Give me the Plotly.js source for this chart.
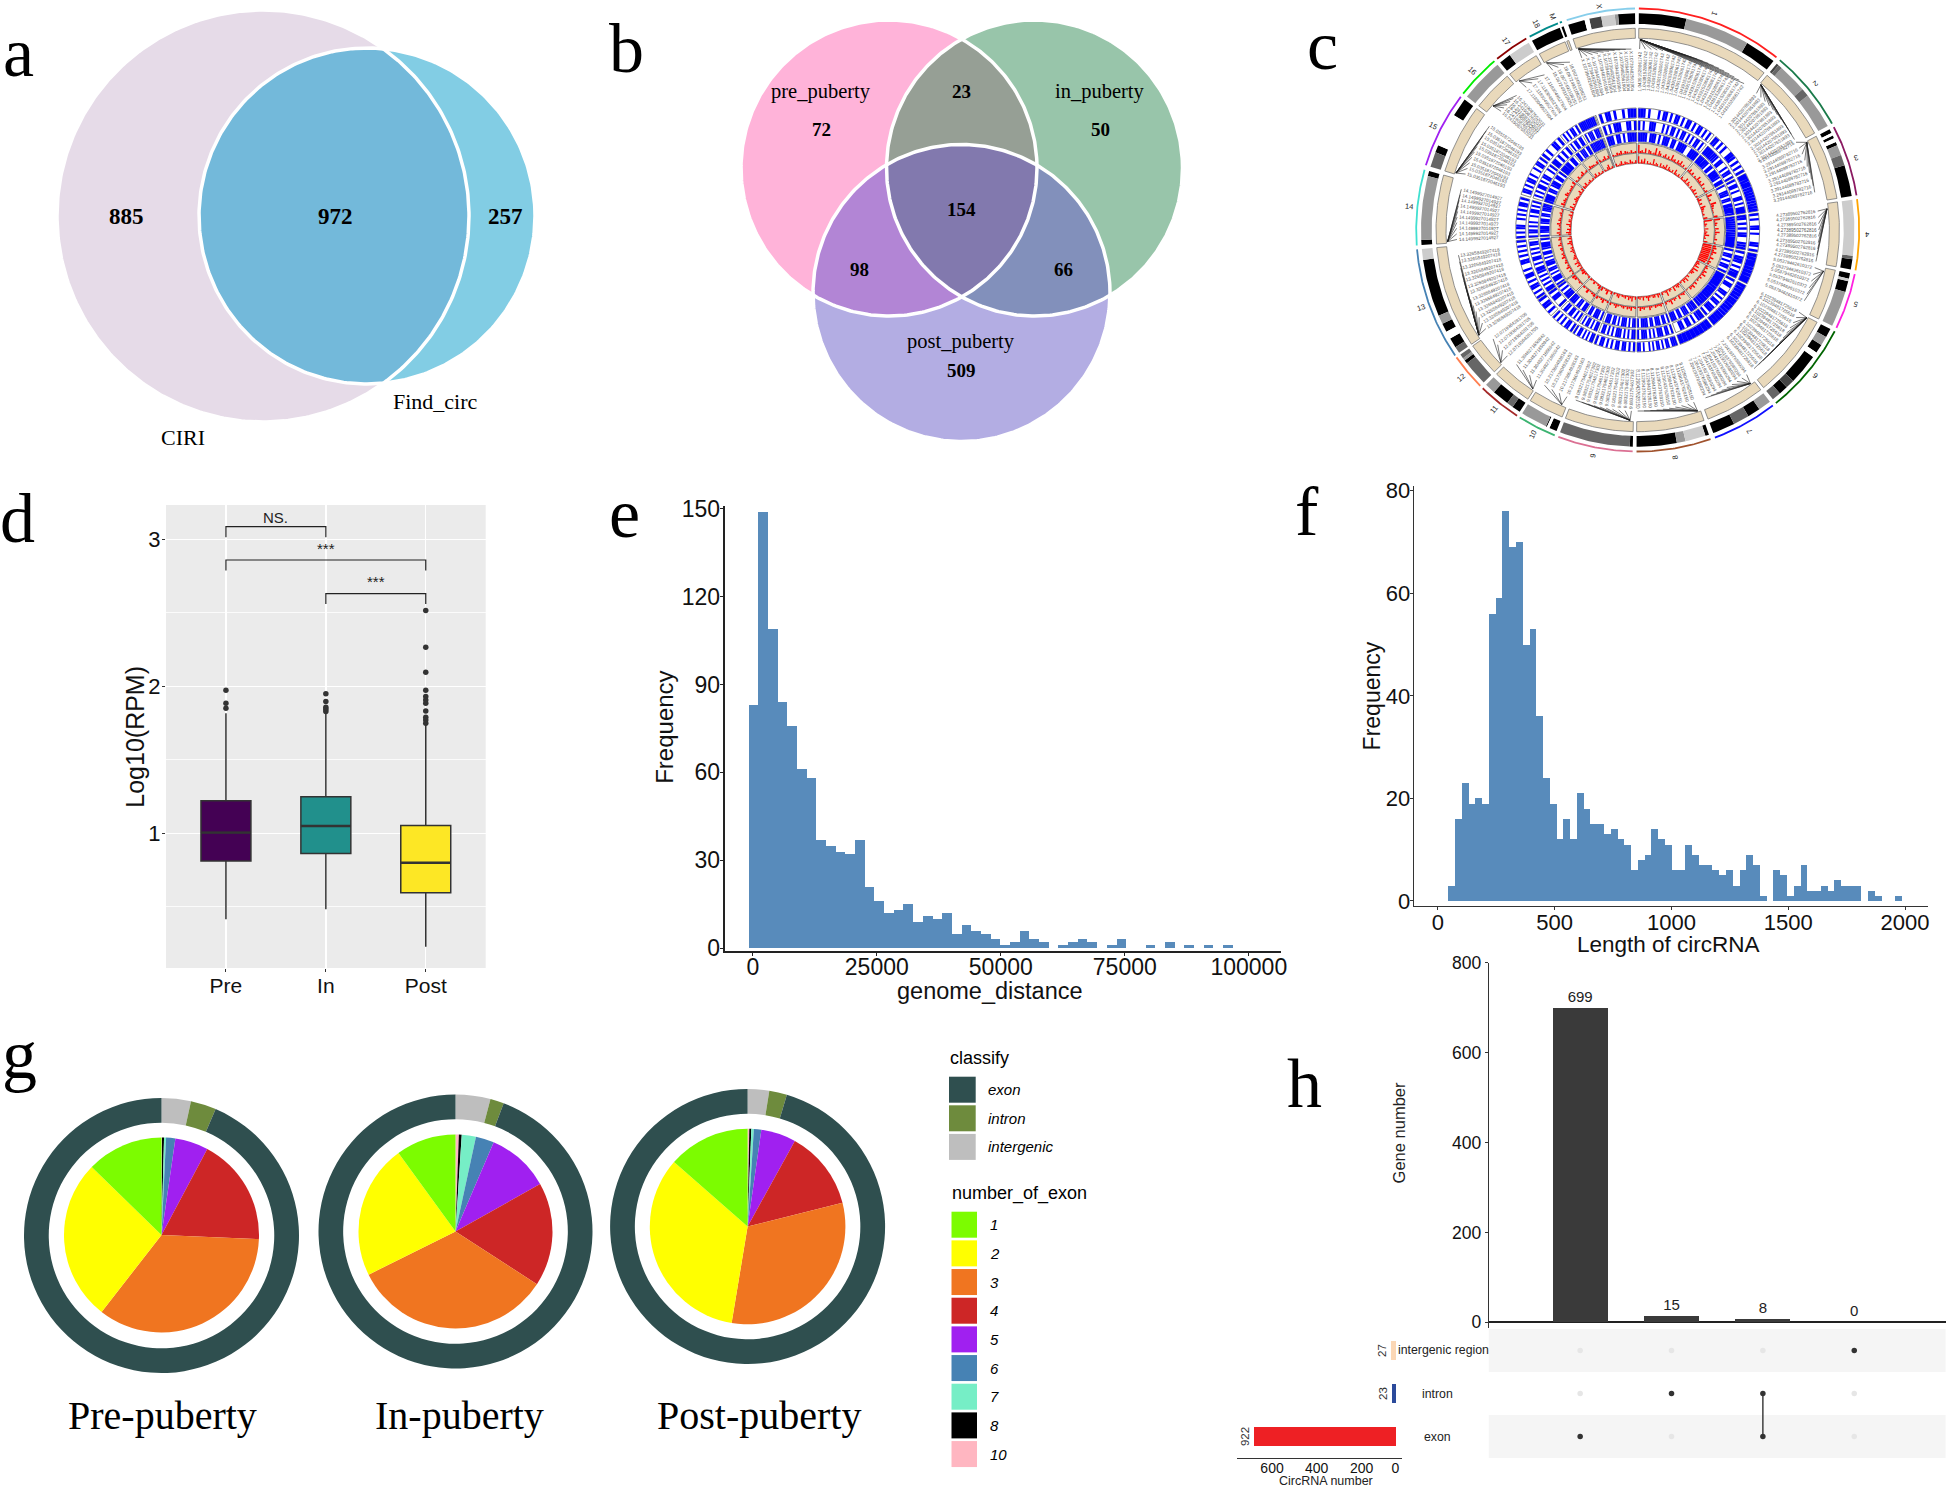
<!DOCTYPE html>
<html>
<head>
<meta charset="utf-8">
<script src="https://cdn.plot.ly/plotly-3.0.1.min.js"></script>
<style>html,body{margin:0;padding:0;background:#fff}#chart{width:1946px;height:1489px}</style>
</head>
<body>
<div id="chart"></div>
<script>
// ---------- data ----------
const vennA = [885, 972, 257];
const vennANames = ['CIRI', 'Find_circ'];
const vennB = {pre: 72, in_: 50, post: 509, preIn: 23, prePost: 98, inPost: 66, all: 154};

const groups = ['Pre', 'In', 'Post'];
const boxQ1 = [0.812, 0.862, 0.596];
const boxMedian = [1.005, 1.05, 0.80];
const boxQ3 = [1.222, 1.249, 1.054];
const boxLow = [0.415, 0.483, 0.229];
const boxHigh = [1.816, 1.812, 1.737];
const boxColors = ['#440154', '#21908c', '#fde725'];
const outPre = [1.973, 1.884, 1.85];
const outIn = [1.95, 1.896, 1.857, 1.844, 1.828];
const outPost = [2.515, 2.265, 2.095, 1.973, 1.93, 1.907, 1.884, 1.832, 1.789, 1.771, 1.748];

const genomeCounts = [83,149,109,84,76,61,58,37,35,33,32,37,21,16,12,13,15,9,11,10,12,5,8,6,5,3,1,2,6,3,2,0,1,2,3,2,0,1,3,0,0,1,0,2,0,1,0,1,0,1];
const lengthCounts = [3,16,23,19,20,19,56,59,76,69,70,50,53,36,24,19,12,16,12,21,18,15,15,13,14,12,11,6,8,9,14,12,11,6,6,11,9,7,7,6,5,6,3,6,9,7,1,0,6,5,1,3,7,2,2,3,2,4,3,3,3,0,2,1,0,0,1];

const classifyNames = ['exon', 'intron', 'intergenic'];
const classifyColors = ['#2f4f4f', '#6e8b3d', '#bebebe'];
const exonNames = ['1','2','3','4','5','6','7','8','10'];
const exonColors = ['#7cfc00','#ffff00','#f07520','#cd2626','#a020f0','#4682b4','#76eec6','#000000','#ffb6c1'];
// shares, clockwise from twelve o'clock: exon number 10, 8, 7, 6, 5, 4, 3, 2, 1
const piePre  = [0.3, 1.2, 1.2, 5.5, 19.8, 64.4, 125.5, 96.4, 45.7];
const pieIn   = [2, 1.7, 8.5, 11, 37.5, 62.2, 120.7, 80.4, 36];
const piePost = [1, 1.2, 1.5, 4.4, 20.8, 47.1, 113.4, 121.8, 48.8];
// intergenic, intron, exon
const ringPre  = [12.4, 10.8, 336.8];
const ringIn   = [14.8, 5.8, 339.4];
const ringPost = [9.1, 7.5, 343.4];
const pieTitles = ['Pre-puberty', 'In-puberty', 'Post-puberty'];

const upsetCounts = [699, 15, 8, 0];
const setNames = ['exon', 'intron', 'intergenic region'];
const setCounts = [922, 23, 27];
const setColors = ['#ee2024', '#2b4a9b', '#fbd7b5'];
const upsetExon = [1, 0, 1, 0];
const upsetIntron = [0, 1, 1, 0];
const upsetInter = [0, 0, 0, 1];

const chrNames = ['1','2','3','4','5','6','7','8','9','10','11','12','13','14','15','16','17','18','M','X'];
const chrStart = [0.3,39.9,62.3,82,101.5,117.2,142.4,160.8,181.3,202,213,225.3,235.5,266,287,308,320.6,330.8,339.4,341.3];
const chrEnd = [38.8,61.3,81,100.5,116.2,141.4,159.6,180.3,201,212.2,224.4,234.9,265,285.8,307,319.7,329.8,338.9,340,359.3];
const chrColors = ['#ff2020','#1a7a4a','#8b1a62','#ffa500','#ff20e0','#006400','#1010ff','#a0522d','#db7093','#3cb371','#a52a2a','#ff7f50','#4682b4','#40e0d0','#a020f0','#00ee00','#8b0000','#008b8b','#008b8b','#87ceeb'];
const K='#000000',D='#444444',M='#666666',G='#999999',L='#cccccc',W='#ffffff';
const chrBands = [
 [[.33,K],[.78,G],[1,K]],
 [[.03,D],[.08,M],[.45,G],[.55,M],[1,G]],
 [[.06,K],[.1,W],[.14,K],[.2,W],[.25,K],[.4,G],[.55,M],[1,K]],
 [[.8,L],[.85,M],[1,K]],
 [[.1,K],[.15,L],[.35,K],[.6,G],[1,G]],
 [[.1,K],[.2,G],[.3,K],[.36,W],[.7,K],[.8,D],[.9,K],[1,M]],
 [[.2,G],[.4,K],[.65,M],[1,K]],
 [[.05,K],[.33,L],[.45,G],[1,K]],
 [[.04,K],[1,M]],
 [[.2,K],[.27,W],[.3,K],[1,G]],
 [[.2,K],[.35,M],[.75,K],[1,G]],
 [[.7,M],[.8,K],[.88,G],[1,M]],
 [[.06,M],[.15,K],[.22,W],[.3,K],[.38,G],[.9,K],[1,L]],
 [[.07,K],[.93,G],[1,K]],
 [[.2,M],[.3,K],[.75,W],[1,K]],
 [[1,G]],
 [[.35,K],[1,L]],
 [[1,K]],
 [[1,K]],
 [[.25,K],[.32,W],[.5,D],[.7,L],[.75,G],[1,K]]
];
const labelStart = [0.6,41,61,84,102,117,143,162,182,203,214,226,237,267,288,311,322,332,0,342];
const labelEnd = [36,60,78,100,113,140,158,180,200,211,222,233,262,283,305,318,329,338,0,358];
const labelCount = [20,11,9,9,6,13,9,10,10,4,4,4,13,10,10,6,4,4,0,10];
const linkAnchor = [0.7,40.3,62.6,83.6,102.5,117.4,143.7,161.7,182.3,203.5,213.4,225.9,236.5,266.5,287.4,310.6,321.5,331.4,0,341.9];
const labelText = ['1.04391528061742','2.30144207651893','3.29144089782716','4.27389502762816','5.05379462610372','6.10239481725618','7.20419376580294','8.11290437628150','9.08321754617302','10.2173604928163','11.3048271650942','12.0719364281705','13.3265849207418','14.1499927014927','15.0351872046193','16.2419087652031','17.1183049527604','18.0672493108251','','X.10739482561904'];
const ringA = ["###.#...#.##.#.##.#.##.#.##.#.#.","##.#.#..###.#.#.#","##############","#.#..##.#...##.#","#########","###############","########","###.##.#.##.#.#..#.##","#.#.##.##.#.#.##.#","##.#.#.##.#","#.##.#.#.#",".#.##.#","#.#.##.#.##.#..##.#.#.#.#","#.#.##..#.#.#.##.#",".##.#.##.#..#.##.#","#.#..##.#",".#.#.##.#","#########","","#.##.#..#.###"];
const ringB = ["#.#..###...#.#.##.#.##.#.#.##.#.","#######.##..#.##.#","#.##.#..##.#.###","##.#.#.##..###","#.###.#.###","#.##..##.#.##.###.#","###.#.##.##..","#.##.###.#.#.###.#","##.#.#.###.#.#.##.","##.#.##.#.","#.#.##.##.","#..##.#","##.#.#.#.###.#.##.#.#.##.","#.##.#.#..#.##.#.#",".#.#.##.#.##..#.#","##.#.#.#",".#.##.##.","#.###.###","","#.#.###..##.#"];
const ringC = ["####.###.#.###.##.####..####","######.##.#####.##","#..###.##.######","##############","#.##.#.##.#","##############","####.###.##.###","#.##.###.##.####.#","##.#.###.#.##.###.","#.###.##.","##.##.###","###.#.#","#.###.#.##.###.#.##.####.#","#.####.###.##.####","####.##.###.##.#","#####.##.","##.###.##","#########","","###.##.#.####"];
const redOuter = ["8231504312715302413162314251302","2413021523140213","151206321104","61320415211302","3425214132","231425131203142301","1321402315213","13223124113241","21423132124213","214213","321412","12134","2131421321423123142132","241312413212312","14232143122314","21312412","132213","312413","","213241321312"];
const redInner = ["7142503121613204132514213052131","3125142031241302","241305321204","81320413251204","9999999998","342516243103152412","2431502316213","24133125214132","31524132214312","315214","421312","21243","3142521432124231253142","352412513312413","25131243212413","32412312","241312","213512","","312413214213"];

// ---------- helpers ----------
const FS = 'Liberation Serif, Times New Roman, serif';
const FA = 'Liberation Sans, Arial, sans-serif';
const PW = 1946, PH = 1489;
const dx = (a, b) => [a / PW, b / PW];
const dy = (top, bottom) => [1 - bottom / PH, 1 - top / PH];
const traces = [], anns = [], shapes = [];
function T(x, y, text, size, o) {
  o = o || {};
  anns.push({xref: 'x', yref: 'y', x, y, text, showarrow: false, xanchor: o.anchor || 'center', yanchor: 'middle',
    textangle: o.angle || 0, font: {family: o.family || FS, size, color: o.color || '#000'}});
}
function circle(cx, cy, r) {
  const p = [];
  for (let i = 0; i < 360; i++) { const t = i * Math.PI / 180; p.push([cx + r * Math.cos(t), cy + r * Math.sin(t)]); }
  return p;
}
function clip(subject, clipper) {
  let out = subject;
  for (let i = 0; i < clipper.length; i++) {
    const a = clipper[i], b = clipper[(i + 1) % clipper.length], inp = out;
    out = [];
    const side = p => (b[0] - a[0]) * (p[1] - a[1]) - (b[1] - a[1]) * (p[0] - a[0]);
    for (let j = 0; j < inp.length; j++) {
      const c = inp[j], d = inp[(j + 1) % inp.length], sc = side(c), sd = side(d);
      if (sc >= 0) out.push(c);
      if ((sc >= 0) !== (sd >= 0)) { const t = sc / (sc - sd); out.push([c[0] + t * (d[0] - c[0]), c[1] + t * (d[1] - c[1])]); }
    }
  }
  return out;
}
function poly(points, color) {
  const x = points.map(p => p[0]), y = points.map(p => p[1]);
  x.push(x[0]); y.push(y[0]);
  traces.push({type: 'scatter', mode: 'lines', x, y, xaxis: 'x', yaxis: 'y', fill: 'toself', fillcolor: color, line: {width: 0}, hoverinfo: 'skip', showlegend: false});
}
function outline(points, color, width) {
  const x = points.map(p => p[0]), y = points.map(p => p[1]);
  x.push(x[0]); y.push(y[0]);
  traces.push({type: 'scatter', mode: 'lines', x, y, xaxis: 'x', yaxis: 'y', line: {width, color}, hoverinfo: 'skip', showlegend: false});
}

// ---------- panel a ----------
const cA1 = circle(263, 216, 206), cA2 = circle(367, 216, 168);
poly(cA1, '#e6dbe8'); poly(cA2, '#82cde4'); poly(clip(cA1, cA2), '#73b9da');
outline(cA1, '#ffffff', 3.5); outline(cA2, '#ffffff', 3.5);
T(126, 216, '<b>' + vennA[0] + '</b>', 23); T(335, 216, '<b>' + vennA[1] + '</b>', 23); T(505, 216, '<b>' + vennA[2] + '</b>', 23);
T(183, 437, vennANames[0], 22); T(435, 401, vennANames[1], 22);

// ---------- panel b ----------
const cP = circle(889, 168, 148), cG = circle(1034.5, 168, 148), cU = circle(961.5, 293, 148.5);
poly(cP, '#ffb3d9'); poly(cG, '#98c5aa'); poly(cU, '#b3ade3');
poly(clip(cP, cG), '#969f95'); poly(clip(cP, cU), '#b285d5'); poly(clip(cG, cU), '#8290bb');
poly(clip(clip(cP, cG), cU), '#8279ae');
[cP, cG, cU].forEach(c => outline(c, '#ffffff', 3.5));
T(821, 91, 'pre_puberty', 20.5); T(821, 129, '<b>' + vennB.pre + '</b>', 19);
T(961, 91, '<b>' + vennB.preIn + '</b>', 19);
T(1100, 91, 'in_puberty', 20.5); T(1100, 129, '<b>' + vennB.in_ + '</b>', 19);
T(961, 209, '<b>' + vennB.all + '</b>', 19);
T(859, 269, '<b>' + vennB.prePost + '</b>', 19); T(1063, 269, '<b>' + vennB.inPost + '</b>', 19);
T(961, 341, 'post_puberty', 20.5); T(961, 370, '<b>' + vennB.post + '</b>', 19);

// ---------- panel c: circular genome plot ----------
const CX = 1637.7, CY = 230;
const pol = (r, deg) => { const t = deg * Math.PI / 180; return [CX + r * Math.sin(t), CY - r * Math.cos(t)]; };
function sector(r0, r1, a0, a1) {
  const p = [], n = Math.max(1, Math.ceil((a1 - a0) / 0.75));
  for (let i = 0; i <= n; i++) p.push(pol(r1, a0 + (a1 - a0) * i / n));
  for (let i = n; i >= 0; i--) p.push(pol(r0, a0 + (a1 - a0) * i / n));
  return p;
}
function batch(list, fill, lineColor, lineWidth) {
  const x = [], y = [];
  list.forEach(p => { p.forEach(q => { x.push(q[0]); y.push(q[1]); }); x.push(p[0][0], null); y.push(p[0][1], null); });
  traces.push({type: 'scatter', mode: 'lines', x, y, xaxis: 'x', yaxis: 'y', fill: fill ? 'toself' : 'none', fillcolor: fill || undefined,
    line: {width: lineWidth || 0, color: lineColor || fill}, hoverinfo: 'skip', showlegend: false, connectgaps: false});
}
// outer coloured arcs and chromosome names
chrNames.forEach((name, i) => {
  const pts = [], n = Math.ceil((chrEnd[i] - chrStart[i]) * 2);
  for (let k = 0; k <= n; k++) pts.push(pol(221.5, chrStart[i] + (chrEnd[i] - chrStart[i]) * k / n));
  traces.push({type: 'scatter', mode: 'lines', x: pts.map(p => p[0]), y: pts.map(p => p[1]), xaxis: 'x', yaxis: 'y', line: {width: 1.8, color: chrColors[i]}, hoverinfo: 'skip', showlegend: false});
  const mid = name === 'M' ? 338.4 : name === '18' ? 333.8 : (chrStart[i] + chrEnd[i]) / 2;
  const p = pol(name === 'X' ? 227 : 230, mid);
  let rot = mid + 90; if (rot > 180) rot -= 360;
  T(p[0], p[1], name, 7.5, {family: FA, angle: rot, color: '#222'});
});
// ideogram bands, grouped by shade
const bandGroups = {};
chrBands.forEach((bands, i) => {
  let prev = 0;
  bands.forEach(b => {
    const a0 = chrStart[i] + (chrEnd[i] - chrStart[i]) * prev, a1 = chrStart[i] + (chrEnd[i] - chrStart[i]) * b[0];
    (bandGroups[b[1]] = bandGroups[b[1]] || []).push(sector(206, 216.7, a0, a1));
    prev = b[0];
  });
});
Object.keys(bandGroups).forEach(c => batch(bandGroups[c], c));
// tan track, blue tracks, red tracks
const allSectors = (r0, r1) => chrNames.map((_, i) => sector(r0, r1, chrStart[i], chrEnd[i]));
batch(allSectors(191.7, 201.7), '#e9d9bb', '#777777', 0.8);
const blueTracks = [[112, 122, ringA], [99.5, 109.5, ringB], [88, 98, ringC]];
blueTracks.forEach(tr => {
  batch(allSectors(tr[0], tr[1]), '#ffffff', '#777777', 0.9);
  const list = [];
  tr[2].forEach((s, i) => {
    const w = (chrEnd[i] - chrStart[i]) / Math.max(1, s.length);
    for (let k = 0; k < s.length; k++) if (s[k] === '#') list.push(sector(tr[0] + 0.4, tr[1] - 0.4, chrStart[i] + k * w, chrStart[i] + (k + 1) * w - 0.05));
  });
  batch(list, '#0000ff');
});
const redTracks = [[77, 87, redOuter], [66.7, 76.7, redInner]];
redTracks.forEach(tr => {
  batch(allSectors(tr[0], tr[1]), '#e9d9bb', '#777777', 0.9);
  const list = [];
  tr[2].forEach((s, i) => {
    const w = (chrEnd[i] - chrStart[i]) / Math.max(1, s.length);
    for (let k = 0; k < s.length; k++) {
      const h = +s[k];
      if (h > 0) list.push(sector(tr[0], tr[0] + (tr[1] - tr[0]) * h / 10, chrStart[i] + k * w, chrStart[i] + (k + 0.8) * w));
    }
  });
  batch(list, '#ff0000');
});
// gene labels with links
const linkX = [], linkY = [];
chrNames.forEach((name, i) => {
  const n = labelCount[i];
  for (let k = 0; k < n; k++) {
    const a = labelStart[i] + (labelEnd[i] - labelStart[i]) * k / Math.max(1, n - 1);
    const p0 = pol(181, a), p1 = pol(190.5, linkAnchor[i]);
    linkX.push(p0[0], p1[0], null); linkY.push(p0[1], p1[1], null);
    const c = pol(159, a);
    let rot = a <= 180 ? a - 90 : a + 90; if (rot > 180) rot -= 360;
    T(c[0], c[1], labelText[i], 4.6, {family: FA, angle: rot, color: '#555'});
  }
});
traces.push({type: 'scatter', mode: 'lines', x: linkX, y: linkY, xaxis: 'x', yaxis: 'y', line: {width: 0.6, color: '#222'}, hoverinfo: 'skip', showlegend: false});

// ---------- panel d: boxplot ----------
groups.forEach((g, i) => {
  traces.push({type: 'box', x: [i + 1], q1: [boxQ1[i]], median: [boxMedian[i]], q3: [boxQ3[i]], lowerfence: [boxLow[i]], upperfence: [boxHigh[i]],
    width: 0.5, whiskerwidth: 0, fillcolor: boxColors[i], line: {color: '#333333', width: 1.5}, boxpoints: false, xaxis: 'x2', yaxis: 'y2', hoverinfo: 'skip', showlegend: false});
  traces.push({type: 'scatter', mode: 'lines', x: [i + 0.75, i + 1.25], y: [boxMedian[i], boxMedian[i]], xaxis: 'x2', yaxis: 'y2', line: {color: '#333333', width: 2.4}, hoverinfo: 'skip', showlegend: false});
});
[outPre, outIn, outPost].forEach((o, i) => traces.push({type: 'scatter', mode: 'markers', x: o.map(() => i + 1), y: o, xaxis: 'x2', yaxis: 'y2', marker: {size: 5.5, color: '#333333'}, hoverinfo: 'skip', showlegend: false}));
[[1, 2, 3.086, 3.014], [1, 3, 2.859, 2.787], [2, 3, 2.63, 2.56]].forEach(b => traces.push({type: 'scatter', mode: 'lines',
  x: [b[0], b[0], b[1], b[1]], y: [b[3], b[2], b[2], b[3]], xaxis: 'x2', yaxis: 'y2', line: {color: '#222', width: 1.2}, hoverinfo: 'skip', showlegend: false}));
[[1.5, 3.15, 'NS.', 15], [2, 2.935, '***', 15], [2.5, 2.71, '***', 15]].forEach(b => anns.push({xref: 'x2', yref: 'y2', x: b[0], y: b[1], text: b[2], showarrow: false, font: {family: FA, size: b[3], color: '#222'}}));
shapes.push({type: 'rect', xref: 'x2 domain', yref: 'y2 domain', x0: 0, x1: 1, y0: 0, y1: 1, fillcolor: '#ebebeb', line: {width: 0}, layer: 'below'});
T(135, 736.7, 'Log10(RPM)', 25, {family: FA, angle: -90, color: '#111'});

// ---------- panel e ----------
traces.push({type: 'bar', x: genomeCounts.map((_, i) => -848 + 1952 * (i + 0.5)), y: genomeCounts, width: 1952, marker: {color: '#588bbb', line: {width: 0}}, xaxis: 'x3', yaxis: 'y3', hoverinfo: 'skip', showlegend: false});
T(990, 991, 'genome_distance', 23.5, {family: FA, color: '#111'});
T(665, 727.8, 'Frequency', 24, {family: FA, angle: -90, color: '#111'});

// ---------- panel f ----------
traces.push({type: 'bar', x: lengthCounts.map((_, i) => 44.7 + 29 * (i + 0.5)), y: lengthCounts, width: 29, marker: {color: '#588bbb', line: {width: 0}}, xaxis: 'x4', yaxis: 'y4', hoverinfo: 'skip', showlegend: false});
T(1668.6, 944, 'Length of circRNA', 22.5, {family: FA, color: '#111'});
T(1371.7, 695.7, 'Frequency', 23, {family: FA, angle: -90, color: '#111'});

// ---------- panel g ----------
const pieGeom = [[161.5, 1235.5, 137.5, 1235, 97.5], [455.5, 1231.5, 137, 1231.5, 97], [747.6, 1226.5, 137.5, 1226.5, 97.8]];
const exonOrder = [8, 7, 6, 5, 4, 3, 2, 1, 0];
[ [ringPre, piePre], [ringIn, pieIn], [ringPost, piePost] ].forEach((d, i) => {
  const g = pieGeom[i];
  traces.push({type: 'pie', values: d[0], labels: ['intergenic', 'intron', 'exon'], marker: {colors: [classifyColors[2], classifyColors[1], classifyColors[0]], line: {width: 0}},
    hole: 0.82, sort: false, direction: 'clockwise', rotation: 0, textinfo: 'none', hoverinfo: 'skip', showlegend: false,
    domain: {x: dx(g[0] - g[2], g[0] + g[2]), y: dy(g[1] - g[2], g[1] + g[2])}});
  traces.push({type: 'pie', values: d[1], labels: exonOrder.map(k => exonNames[k]), marker: {colors: exonOrder.map(k => exonColors[k]), line: {width: 0}},
    sort: false, direction: 'clockwise', rotation: 0, textinfo: 'none', hoverinfo: 'skip', showlegend: false,
    domain: {x: dx(g[0] - g[4], g[0] + g[4]), y: dy(g[3] - g[4], g[3] + g[4])}});
});
T(162.5, 1415, pieTitles[0], 40); T(459, 1415, pieTitles[1], 40); T(759, 1415, pieTitles[2], 40);
T(948, 1058, 'classify', 18, {family: FA, anchor: 'left'});
classifyNames.forEach((n, i) => {
  const y0 = 1076.7 + i * 28.6;
  shapes.push({type: 'rect', xref: 'x', yref: 'y', x0: 949, x1: 975.7, y0, y1: y0 + 26, fillcolor: classifyColors[i], line: {width: 0}});
  T(986, y0 + 13, '<i>' + n + '</i>', 15, {family: FA, anchor: 'left'});
});
T(950, 1193, 'number_of_exon', 18, {family: FA, anchor: 'left'});
exonNames.forEach((n, i) => {
  const y0 = 1211.7 + i * 28.67;
  shapes.push({type: 'rect', xref: 'x', yref: 'y', x0: 951.5, x1: 977, y0, y1: y0 + 26, fillcolor: exonColors[i], line: {width: 0}});
  T(988, y0 + 13, '<i>' + n + '</i>', 15, {family: FA, anchor: 'left'});
});

// ---------- panel h: UpSet plot ----------
traces.push({type: 'bar', x: [1, 2, 3, 4], y: upsetCounts, width: 0.6, marker: {color: '#3a3a3a', line: {width: 0}}, text: upsetCounts.map(String), textposition: 'outside', cliponaxis: false,
  textfont: {family: FA, size: 15, color: '#222'}, xaxis: 'x5', yaxis: 'y5', hoverinfo: 'skip', showlegend: false});
T(1398.7, 1132.7, 'Gene number', 16.5, {family: FA, angle: -90, color: '#222'});
shapes.push({type: 'rect', xref: 'x6 domain', yref: 'y6', x0: 0, x1: 1, y0: 1.5, y1: 2.5, fillcolor: '#f5f5f5', line: {width: 0}, layer: 'below'});
shapes.push({type: 'rect', xref: 'x6 domain', yref: 'y6', x0: 0, x1: 1, y0: -0.5, y1: 0.5, fillcolor: '#f5f5f5', line: {width: 0}, layer: 'below'});
[upsetExon, upsetIntron, upsetInter].forEach((row, r) => {
  traces.push({type: 'scatter', mode: 'markers', x: [1, 2, 3, 4], y: row.map(() => r), xaxis: 'x6', yaxis: 'y6',
    marker: {size: 5.5, color: row.map(v => v ? '#333333' : '#e6e6e6')}, hoverinfo: 'skip', showlegend: false});
});
traces.push({type: 'scatter', mode: 'lines', x: [3, 3], y: [0, 1], xaxis: 'x6', yaxis: 'y6', line: {color: '#333333', width: 1.4}, hoverinfo: 'skip', showlegend: false});
traces.push({type: 'bar', orientation: 'h', y: [0, 1, 2], x: setCounts, width: 0.43, marker: {color: setColors, line: {width: 0}}, text: setCounts.map(String), textposition: 'outside', textangle: -90, cliponaxis: false,
  textfont: {family: FA, size: 11.5, color: '#333'}, xaxis: 'x7', yaxis: 'y7', hoverinfo: 'skip', showlegend: false});
T(1443, 1350, setNames[2], 12.3, {family: FA, color: '#222'});
T(1437, 1393.5, setNames[1], 12.3, {family: FA, color: '#222'});
T(1437, 1437, setNames[0], 12.3, {family: FA, color: '#222'});
T(1325.8, 1480.5, 'CircRNA number', 12.5, {family: FA, color: '#222'});

// ---------- panel letters ----------
[['a', 18, 52], ['b', 626, 48], ['c', 1322, 45], ['d', 17, 518], ['e', 624, 513], ['f', 1307, 511], ['g', 19, 1054], ['h', 1304, 1083]]
  .forEach(l => T(l[1], l[2], l[0], 70));

const base = {showgrid: false, zeroline: false, automargin: false};
const tickA = size => ({family: FA, size, color: '#111'});
const layout = {
  width: PW, height: PH, margin: {l: 0, r: 0, t: 0, b: 0}, paper_bgcolor: '#ffffff', plot_bgcolor: 'rgba(0,0,0,0)',
  showlegend: false, hovermode: false, bargap: 0, annotations: anns, shapes,
  // full page drawing area
  xaxis: {domain: [0, 1], range: [0, PW], visible: false, fixedrange: true},
  yaxis: {domain: [0, 1], range: [PH, 0], visible: false, fixedrange: true},
  // d
  xaxis2: {...base, domain: dx(166, 485.7), range: [0.4, 3.6], anchor: 'y2', tickvals: [1, 2, 3], ticktext: groups, showgrid: true, gridcolor: '#ffffff', gridwidth: 1.4,
    ticks: 'outside', ticklen: 3, tickcolor: '#333', tickfont: tickA(21), ticklabelstandoff: -4},
  yaxis2: {...base, domain: dy(505, 968), range: [0.084, 3.233], anchor: 'x2', tickvals: [1, 2, 3], showgrid: true, gridcolor: '#ffffff', gridwidth: 1.4,
    minor: {tickvals: [0.5, 1.5, 2.5], showgrid: true, gridcolor: '#ffffff', gridwidth: 0.8, ticks: ''},
    ticks: 'outside', ticklen: 3, tickcolor: '#333', tickfont: tickA(22), ticklabelstandoff: -3},
  // e
  xaxis3: {...base, domain: dx(724.6, 1280.6), range: [-5685, 106411], anchor: 'y3', tickvals: [0, 25000, 50000, 75000, 100000], tickformat: 'd', showline: true, linecolor: '#222', linewidth: 2,
    ticks: 'outside', ticklen: 3, tickcolor: '#222', tickfont: tickA(23), ticklabelstandoff: -8},
  yaxis3: {...base, domain: dy(506.4, 950.6), range: [-0.82, 150.8], anchor: 'x3', tickvals: [0, 30, 60, 90, 120, 150], showline: true, linecolor: '#222', linewidth: 2,
    ticks: 'outside', ticklen: 3, tickcolor: '#222', tickfont: tickA(23), ticklabelstandoff: -5},
  // f
  xaxis4: {...base, domain: dx(1414.2, 1928.3), range: [-101, 2099.7], anchor: 'y4', tickvals: [0, 500, 1000, 1500, 2000], showline: true, linecolor: '#333', linewidth: 1.5,
    ticks: 'outside', ticklen: 3, tickcolor: '#333', tickfont: tickA(22), ticklabelstandoff: -7},
  yaxis4: {...base, domain: dy(486, 905.7), range: [-0.92, 80.9], anchor: 'x4', tickvals: [0, 20, 40, 60, 80], showline: true, linecolor: '#333', linewidth: 1.5,
    ticks: 'outside', ticklen: 3, tickcolor: '#333', tickfont: tickA(22), ticklabelstandoff: -5},
  // h top
  xaxis5: {...base, domain: dx(1488.8, 1945.6), range: [0, 5], anchor: 'y5', showticklabels: false, ticks: ''},
  yaxis5: {...base, domain: dy(962.7, 1328.4), range: [-13.5, 800], anchor: 'x5', tickvals: [0, 200, 400, 600, 800], showline: true, linecolor: '#333', linewidth: 1,
    zeroline: true, zerolinecolor: '#222', zerolinewidth: 2, ticks: 'outside', ticklen: 3, tickcolor: '#333', tickfont: tickA(17.5)},
  // h matrix
  xaxis6: {domain: dx(1488.8, 1945.6), range: [0, 5], anchor: 'y6', visible: false},
  yaxis6: {domain: dy(1329, 1458), range: [-0.5, 2.5], anchor: 'x6', visible: false},
  // h set sizes
  xaxis7: {...base, domain: dx(1237, 1402), range: [1036, -42.5], anchor: 'y7', tickvals: [807, 516, 221, 0], ticktext: ['600', '400', '200', '0'], showline: true, linecolor: '#333', linewidth: 1.2,
    ticks: '', tickfont: tickA(14), ticklabelstandoff: -3},
  yaxis7: {domain: dy(1329, 1458), range: [-0.5, 2.5], anchor: 'x7', visible: false}
};
Plotly.newPlot('chart', traces, layout, {displayModeBar: false, staticPlot: true});
</script>
</body>
</html>
